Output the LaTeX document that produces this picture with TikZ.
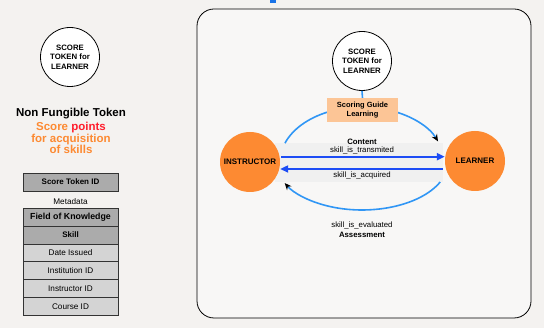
\documentclass[tikz,border=0pt]{standalone}
\usepackage{fontspec}
\setmainfont{Liberation Sans}
\usetikzlibrary{arrows.meta,calc}
\definecolor{bg}{HTML}{F4F2F0}
\definecolor{panel}{HTML}{F8F7F6}
\definecolor{markblue}{HTML}{1A73E8}
\definecolor{orng}{HTML}{FD8A32}
\definecolor{ptred}{HTML}{FF1E2D}
\definecolor{peach}{HTML}{FCC596}
\definecolor{arcblue}{HTML}{3096F5}
\definecolor{flowblue}{HTML}{1C4CF5}
\definecolor{celldark}{HTML}{ABABAB}
\definecolor{celllight}{HTML}{D4D4D4}
\definecolor{band}{HTML}{F0F0F0}
\begin{document}
\begin{tikzpicture}[x=1pt,y=1pt,
  token/.style={circle,draw,line width=0.8pt,fill=white,minimum size=59pt,inner sep=0pt,align=center,
    font=\bfseries\fontsize{7.8}{9.6}\selectfont},
  actor/.style={circle,fill=orng,minimum size=60pt,inner sep=0pt,font=\bfseries\fontsize{8}{9.6}\selectfont},
  cell/.style={rectangle,draw=black!80,line width=0.7pt,minimum width=95pt,minimum height=17.8pt,inner sep=0pt,
    font=\fontsize{8.2}{9.6}\selectfont},
  darkcell/.style={cell,fill=celldark,font=\bfseries\fontsize{8}{9.6}\selectfont},
  lightcell/.style={cell,fill=celllight},
  lbl/.style={font=\fontsize{7.8}{9.4}\selectfont,inner sep=0pt},
  blbl/.style={font=\bfseries\fontsize{7.8}{9.4}\selectfont,inner sep=0pt},
  flow/.style={draw=flowblue,line width=2pt,-{Triangle[length=8pt,width=7pt,color=flowblue]}},
  arcline/.style={draw=arcblue,line width=1.6pt,-{Stealth[length=7pt,width=6pt,color=black]}}
]
\useasboundingbox (0,0) rectangle (544,328);
\fill[bg] (0,0) rectangle (544,328);
\draw[line width=0.8pt,rounded corners=17pt,fill=panel] (197,10) rectangle (531,319);
\fill[markblue] (270,325) rectangle (276,328);

% left legend
\node[token] (tokL) at (70,271) {SCORE\\TOKEN for\\LEARNER};
\node[font=\bfseries\fontsize{11.5}{11.7}\selectfont,inner sep=0pt] (nft) at (71,214) {Non Fungible Token};
\node[font=\bfseries\fontsize{11.5}{11.7}\selectfont,text=orng,align=center,inner sep=0pt] (pts) at (71,190)
  {Score \textcolor{ptred}{points}\\for acquisition\\of skills};

\node[darkcell] (stid) at (70.5,146) {Score Token ID};
\node[font=\fontsize{8.2}{9.6}\selectfont,inner sep=0pt] (meta) at (70.5,126) {Metadata};
\node[darkcell,font=\bfseries\fontsize{8.8}{9.6}\selectfont] (fok) at (70.5,110.8) {Field of Knowledge};
\node[darkcell] (skill) at (70.5,93) {Skill};
\node[lightcell] (date) at (70.5,75.2) {Date Issued};
\node[lightcell] (inst) at (70.5,57.4) {Institution ID};
\node[lightcell] (instr) at (70.5,39.6) {Instructor ID};
\node[lightcell] (course) at (70.5,21.8) {Course ID};

% right diagram
\coordinate (ctr) at (362,166);
\fill[band] (275,146) rectangle (443,185);
\draw[arcline] ($(ctr)+(160:82 and 55)$) arc[start angle=160,end angle=22,x radius=82,y radius=55];
\draw[arcline] ($(ctr)+(-24.6:86 and 48)$) arc[start angle=-24.6,end angle=-154,x radius=86,y radius=48];

\node[token] (tokR) at (362,267) {SCORE\\TOKEN for\\LEARNER};
\node[fill=peach,minimum width=71pt,minimum height=24pt,inner sep=0pt,align=center,
  font=\bfseries\fontsize{7.5}{9.6}\selectfont] (guide) at (362.5,218) {Scoring Guide\\Learning};
\draw[draw=arcblue,line width=1.6pt] (tokR.south) -- (guide.north);

\node[actor] (instructor) at (250,166) {INSTRUCTOR};
\node[actor] (learner) at (475,167) {LEARNER};

\coordinate (t1) at (281,171.3);
\coordinate (t2) at (443,159);
\draw[flow] (t1) -- (t1 -| learner.west);
\draw[flow] (t2) -- (t2 -| instructor.east);

\node[blbl] (content) at (362,186) {Content};
\node[lbl] (trans) at (362,177.6) {skill\_is\_transmited};
\node[lbl] (acq) at (362,153) {skill\_is\_acquired};
\node[lbl] (eval) at (362,102.3) {skill\_is\_evaluated};
\node[blbl] (assess) at (362,93) {Assessment};
\end{tikzpicture}
\end{document}
